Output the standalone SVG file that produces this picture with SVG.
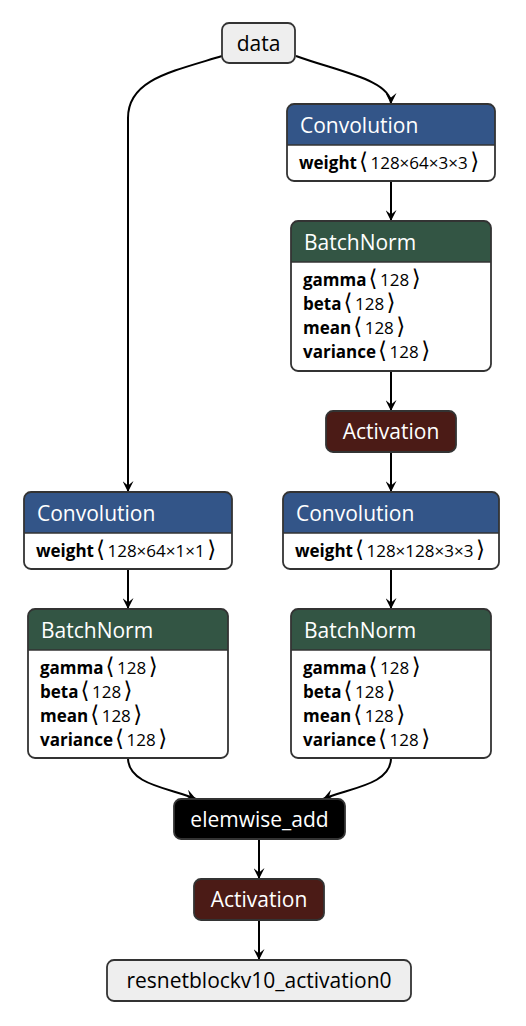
<svg xmlns="http://www.w3.org/2000/svg" width="526" height="1026" viewBox="0 0 526 1026">
<style>
.border{fill:none;stroke:#333;stroke-width:1.8}
.body{fill:#fff}
.title{font-family:"Open Sans","DejaVu Sans",sans-serif;font-size:21px;fill:#fff}
.dark{fill:#000}
.attr{font-family:"Open Sans","DejaVu Sans",sans-serif;font-size:17px;fill:#000}
.attr .n{font-weight:bold}
.attr .b{font-family:"DejaVu Sans",sans-serif;font-size:23px}
.conv{fill:#335588}
.norm{fill:#335544}
.act{fill:#4b1b16}
.io{fill:#eeeeee}
.edge{fill:none;stroke:#000;stroke-width:2}
.sep{stroke:#333;stroke-width:1.5}
</style>
<defs>
<marker id="arrow" viewBox="0 0 10 10" refX="10" refY="5" markerWidth="11" markerHeight="11" markerUnits="userSpaceOnUse" orient="auto">
<path d="M0,0 L10,5 L0,10 L4,5 Z" fill="#000"/>
</marker>
</defs>
<rect width="526" height="1026" fill="#fff"/>
<g id="connectors">
<path class="edge" marker-end="url(#arrow)" d="M296,56 C340,72 391,80 391,104"/>
<path class="edge" marker-end="url(#arrow)" d="M222,56 C170,72 128,80 128,118 L128,492"/>
<path class="edge" marker-end="url(#arrow)" d="M391,181 L391,221"/>
<path class="edge" marker-end="url(#arrow)" d="M391,371 L391,411"/>
<path class="edge" marker-end="url(#arrow)" d="M391,452 L391,492"/>
<path class="edge" marker-end="url(#arrow)" d="M391,569 L391,609"/>
<path class="edge" marker-end="url(#arrow)" d="M128,569 L128,609"/>
<path class="edge" marker-end="url(#arrow)" d="M128,758 C128,785 170,788 196,799"/>
<path class="edge" marker-end="url(#arrow)" d="M391,758 C391,785 349,788 323,799"/>
<path class="edge" marker-end="url(#arrow)" d="M259,839 L259,879"/>
<path class="edge" marker-end="url(#arrow)" d="M259,920 L259,960"/>
</g>
<g id="data">
<rect class="io" x="222" y="23" width="73" height="40" rx="7"/>
<rect class="border" x="222" y="23" width="73" height="40" rx="7"/>
<text class="title dark" x="258.5" y="51" text-anchor="middle">data</text>
</g>
<g id="conv1">
<rect class="body" x="287" y="104" width="208" height="77" rx="7"/>
<path class="conv" d="M287,145 V111 a7,7 0 0 1 7,-7 H488 a7,7 0 0 1 7,7 V145 Z"/>
<line class="sep" x1="287" y1="145" x2="495" y2="145"/>
<rect class="border" x="287" y="104" width="208" height="77" rx="7"/>
<text class="title" x="300" y="133">Convolution</text>
<text class="attr" x="299" y="169"><tspan class="n">weight</tspan><tspan class="b" dx="2">⟨</tspan><tspan dx="2.5">128×64×3×3</tspan><tspan class="b" dx="2.5">⟩</tspan></text>
</g>
<g id="bn1">
<rect class="body" x="291" y="221" width="200" height="150" rx="7"/>
<path class="norm" d="M291,262 V228 a7,7 0 0 1 7,-7 H484 a7,7 0 0 1 7,7 V262 Z"/>
<line class="sep" x1="291" y1="262" x2="491" y2="262"/>
<rect class="border" x="291" y="221" width="200" height="150" rx="7"/>
<text class="title" x="304" y="250">BatchNorm</text>
<text class="attr" x="303" y="286"><tspan class="n">gamma</tspan><tspan class="b" dx="2">⟨</tspan><tspan dx="2.5">128</tspan><tspan class="b" dx="2.5">⟩</tspan></text>
<text class="attr" x="303" y="310"><tspan class="n">beta</tspan><tspan class="b" dx="2">⟨</tspan><tspan dx="2.5">128</tspan><tspan class="b" dx="2.5">⟩</tspan></text>
<text class="attr" x="303" y="334"><tspan class="n">mean</tspan><tspan class="b" dx="2">⟨</tspan><tspan dx="2.5">128</tspan><tspan class="b" dx="2.5">⟩</tspan></text>
<text class="attr" x="303" y="358"><tspan class="n">variance</tspan><tspan class="b" dx="2">⟨</tspan><tspan dx="2.5">128</tspan><tspan class="b" dx="2.5">⟩</tspan></text>
</g>
<g id="act1">
<rect class="act" x="326" y="411" width="130" height="41" rx="7"/>
<rect class="border" x="326" y="411" width="130" height="41" rx="7"/>
<text class="title" x="391" y="439" text-anchor="middle">Activation</text>
</g>
<g id="conv2">
<rect class="body" x="283" y="492" width="216" height="77" rx="7"/>
<path class="conv" d="M283,533 V499 a7,7 0 0 1 7,-7 H492 a7,7 0 0 1 7,7 V533 Z"/>
<line class="sep" x1="283" y1="533" x2="499" y2="533"/>
<rect class="border" x="283" y="492" width="216" height="77" rx="7"/>
<text class="title" x="296" y="521">Convolution</text>
<text class="attr" x="295" y="557"><tspan class="n">weight</tspan><tspan class="b" dx="2">⟨</tspan><tspan dx="2.5">128×128×3×3</tspan><tspan class="b" dx="2.5">⟩</tspan></text>
</g>
<g id="bn2">
<rect class="body" x="291" y="609" width="200" height="149" rx="7"/>
<path class="norm" d="M291,650 V616 a7,7 0 0 1 7,-7 H484 a7,7 0 0 1 7,7 V650 Z"/>
<line class="sep" x1="291" y1="650" x2="491" y2="650"/>
<rect class="border" x="291" y="609" width="200" height="149" rx="7"/>
<text class="title" x="304" y="638">BatchNorm</text>
<text class="attr" x="303" y="674"><tspan class="n">gamma</tspan><tspan class="b" dx="2">⟨</tspan><tspan dx="2.5">128</tspan><tspan class="b" dx="2.5">⟩</tspan></text>
<text class="attr" x="303" y="698"><tspan class="n">beta</tspan><tspan class="b" dx="2">⟨</tspan><tspan dx="2.5">128</tspan><tspan class="b" dx="2.5">⟩</tspan></text>
<text class="attr" x="303" y="722"><tspan class="n">mean</tspan><tspan class="b" dx="2">⟨</tspan><tspan dx="2.5">128</tspan><tspan class="b" dx="2.5">⟩</tspan></text>
<text class="attr" x="303" y="746"><tspan class="n">variance</tspan><tspan class="b" dx="2">⟨</tspan><tspan dx="2.5">128</tspan><tspan class="b" dx="2.5">⟩</tspan></text>
</g>
<g id="conv3">
<rect class="body" x="24" y="492" width="208" height="77" rx="7"/>
<path class="conv" d="M24,533 V499 a7,7 0 0 1 7,-7 H225 a7,7 0 0 1 7,7 V533 Z"/>
<line class="sep" x1="24" y1="533" x2="232" y2="533"/>
<rect class="border" x="24" y="492" width="208" height="77" rx="7"/>
<text class="title" x="37" y="521">Convolution</text>
<text class="attr" x="36" y="557"><tspan class="n">weight</tspan><tspan class="b" dx="2">⟨</tspan><tspan dx="2.5">128×64×1×1</tspan><tspan class="b" dx="2.5">⟩</tspan></text>
</g>
<g id="bn3">
<rect class="body" x="28" y="609" width="200" height="149" rx="7"/>
<path class="norm" d="M28,650 V616 a7,7 0 0 1 7,-7 H221 a7,7 0 0 1 7,7 V650 Z"/>
<line class="sep" x1="28" y1="650" x2="228" y2="650"/>
<rect class="border" x="28" y="609" width="200" height="149" rx="7"/>
<text class="title" x="41" y="638">BatchNorm</text>
<text class="attr" x="40" y="674"><tspan class="n">gamma</tspan><tspan class="b" dx="2">⟨</tspan><tspan dx="2.5">128</tspan><tspan class="b" dx="2.5">⟩</tspan></text>
<text class="attr" x="40" y="698"><tspan class="n">beta</tspan><tspan class="b" dx="2">⟨</tspan><tspan dx="2.5">128</tspan><tspan class="b" dx="2.5">⟩</tspan></text>
<text class="attr" x="40" y="722"><tspan class="n">mean</tspan><tspan class="b" dx="2">⟨</tspan><tspan dx="2.5">128</tspan><tspan class="b" dx="2.5">⟩</tspan></text>
<text class="attr" x="40" y="746"><tspan class="n">variance</tspan><tspan class="b" dx="2">⟨</tspan><tspan dx="2.5">128</tspan><tspan class="b" dx="2.5">⟩</tspan></text>
</g>
<g id="add">
<rect x="174" y="799" width="171" height="40" rx="7" fill="#000"/>
<rect class="border" x="174" y="799" width="171" height="40" rx="7"/>
<text class="title" x="259.5" y="827" text-anchor="middle">elemwise_add</text>
</g>
<g id="act2">
<rect class="act" x="194" y="879" width="130" height="41" rx="7"/>
<rect class="border" x="194" y="879" width="130" height="41" rx="7"/>
<text class="title" x="259" y="907" text-anchor="middle">Activation</text>
</g>
<g id="output">
<rect class="io" x="107" y="960" width="304" height="41" rx="7"/>
<rect class="border" x="107" y="960" width="304" height="41" rx="7"/>
<text class="title dark" x="259" y="988" text-anchor="middle">resnetblockv10_activation0</text>
</g>
</svg>
